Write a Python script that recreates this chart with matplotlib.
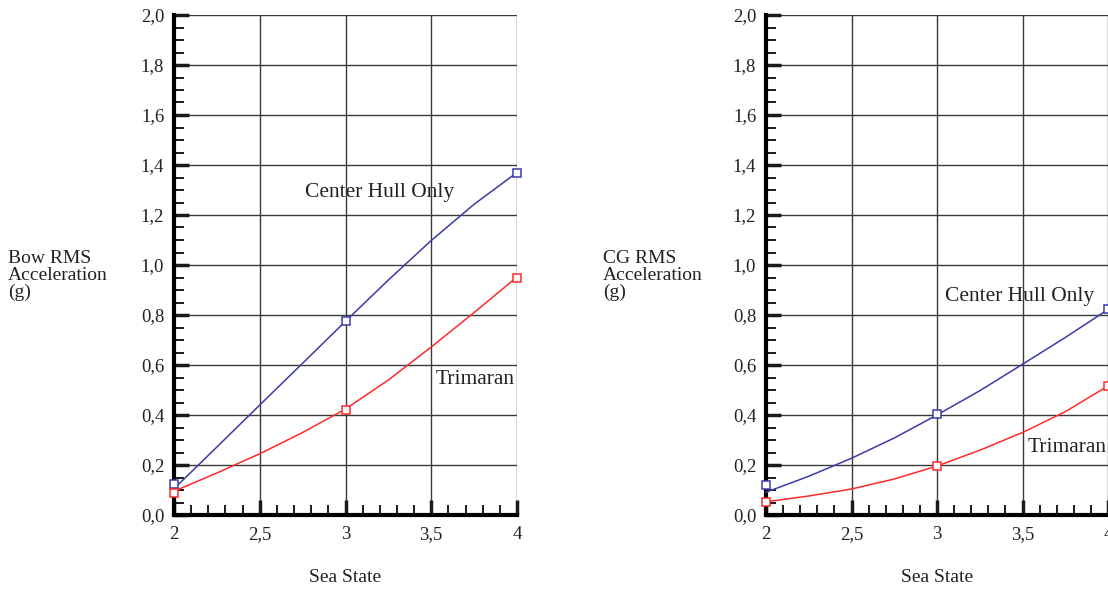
import matplotlib
matplotlib.use("Agg")
import matplotlib.pyplot as plt
from matplotlib.ticker import MultipleLocator, FuncFormatter

plt.rcParams['font.family'] = ['Liberation Serif', 'DejaVu Serif']

# Data (marker points)
sea_state = [2, 3, 4]
bow_center = [0.125, 0.775, 1.37]
bow_trimaran = [0.09, 0.42, 0.95]
cg_center = [0.12, 0.405, 0.825]
cg_trimaran = [0.053, 0.198, 0.518]

# Fitted curve values
curve_x = [2.0, 2.25, 2.5, 2.75, 3.0, 3.25, 3.5, 3.75, 4.0]
bow_center_curve = [0.105, 0.272, 0.44, 0.607, 0.775, 0.94, 1.098, 1.243, 1.37]
bow_trimaran_curve = [0.095, 0.168, 0.245, 0.33, 0.424, 0.54, 0.672, 0.81, 0.952]
cg_center_curve = [0.091, 0.155, 0.227, 0.308, 0.40, 0.497, 0.603, 0.71, 0.822]
cg_trimaran_curve = [0.053, 0.076, 0.104, 0.144, 0.196, 0.259, 0.33, 0.413, 0.516]

BLUE = '#3b3ba8'
RED = '#ff2a2a'
TXT = '#222222'

fig = plt.figure(figsize=(11.08, 5.90), dpi=100)


def comma(v, pos):
    return f"{v:.1f}".replace('.', ',')


def xcomma(v, pos):
    if abs(v - round(v)) < 1e-9:
        return f"{int(round(v))}"
    return f"{v:.1f}".replace('.', ',')


def setup(ax, ylabel, ylabel_x):
    ax.set_xlim(2, 4)
    ax.set_ylim(0, 2.0)
    ax.xaxis.set_major_locator(MultipleLocator(0.5))
    ax.xaxis.set_minor_locator(MultipleLocator(0.1))
    ax.yaxis.set_major_locator(MultipleLocator(0.2))
    ax.yaxis.set_minor_locator(MultipleLocator(0.05))
    ax.yaxis.set_major_formatter(FuncFormatter(comma))
    ax.xaxis.set_major_formatter(FuncFormatter(xcomma))
    ax.grid(True, which='major', color='#3a3a3a', linewidth=1.0)
    for s in ['top', 'right']:
        ax.spines[s].set_visible(False)
    ax.spines['left'].set_linewidth(3)
    ax.spines['bottom'].set_linewidth(3)
    ax.tick_params(which='major', direction='in', length=11, width=2.5,
                   labelsize=13.5, color='#1a1a1a', labelcolor=TXT)
    ax.tick_params(which='minor', direction='in', length=7, width=1.4,
                   color='#1a1a1a')
    ax.tick_params(axis='y', which='major', pad=7)
    ax.tick_params(axis='x', which='major', pad=8)
    pos = ax.get_position()
    fig.text((pos.x0 + pos.x1) / 2, 1 - 578 / 590, 'Sea State', fontsize=14,
             ha='center', va='center', color=TXT)
    fig.text(ylabel_x, 1 - 250 / 590, ylabel, fontsize=14, va='top', ha='left',
             linespacing=0.98, color=TXT)


ax1 = fig.add_axes([174 / 1108, 1 - 515 / 590, 343 / 1108, 500 / 590])
ax2 = fig.add_axes([766 / 1108, 1 - 515 / 590, 342 / 1108, 500 / 590])

setup(ax1, 'Bow RMS\nAcceleration\n(g)', 8 / 1108)
setup(ax2, 'CG RMS\nAcceleration\n(g)', 603 / 1108)

ms = dict(marker='s', markersize=5.2, markerfacecolor='white', markeredgewidth=1.1,
          linestyle='none', clip_on=False, zorder=5)

ax1.plot(curve_x, bow_center_curve, color=BLUE, lw=1.1, zorder=4, clip_on=False)
ax1.plot(curve_x, bow_trimaran_curve, color=RED, lw=1.1, zorder=4, clip_on=False)
ax1.plot(sea_state, bow_center, markeredgecolor=BLUE, **ms)
ax1.plot(sea_state, bow_trimaran, markeredgecolor=RED, **ms)
ax1.text(2.764, 1.292, 'Center Hull Only', fontsize=15.5, ha='left', va='center', color=TXT)
ax1.text(3.528, 0.54, 'Trimaran', fontsize=15.5, ha='left', va='center', color=TXT)

ax2.plot(curve_x, cg_center_curve, color=BLUE, lw=1.1, zorder=4, clip_on=False)
ax2.plot(curve_x, cg_trimaran_curve, color=RED, lw=1.1, zorder=4, clip_on=False)
ax2.plot(sea_state, cg_center, markeredgecolor=BLUE, **ms)
ax2.plot(sea_state, cg_trimaran, markeredgecolor=RED, **ms)
ax2.text(3.047, 0.872, 'Center Hull Only', fontsize=15.5, ha='left', va='center', color=TXT)
ax2.text(3.532, 0.268, 'Trimaran', fontsize=15.5, ha='left', va='center', color=TXT)

fig.savefig('out.png', dpi=100)
